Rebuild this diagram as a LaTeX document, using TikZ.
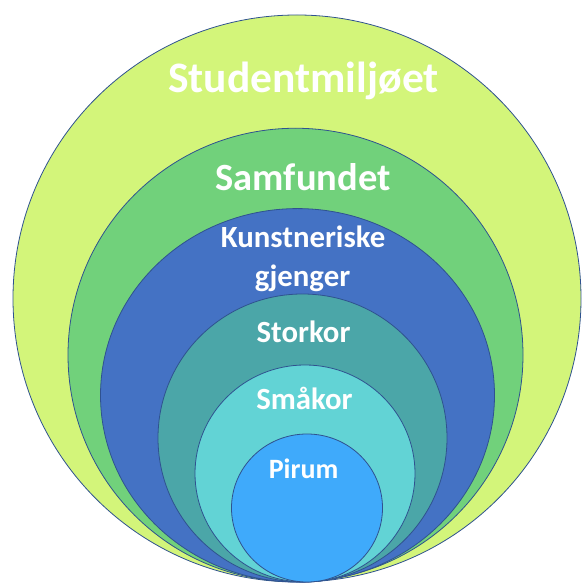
\documentclass[tikz,border=0pt]{standalone}
\usepackage{fontspec}
\setmainfont{Carlito}
\usetikzlibrary{shapes.geometric}
\definecolor{cOuter}{HTML}{D3F57A}
\definecolor{cGreen}{HTML}{71D17B}
\definecolor{cBlue}{HTML}{4472C4}
\definecolor{cTeal}{HTML}{4BA6A8}
\definecolor{cCyan}{HTML}{62D3D5}
\definecolor{cPirum}{HTML}{3FAAFB}
\definecolor{cLine}{HTML}{2F528F}
\tikzset{
  ring/.style={ellipse, draw=cLine, line width=0.8pt, inner sep=0pt, outer sep=0pt},
  lbl/.style={text=white, anchor=base, inner sep=0pt, font=\bfseries},
}
\begin{document}
\begin{tikzpicture}[x=1pt,y=1pt]
\useasboundingbox (0,0) rectangle (584,583);
\node[ring, fill=cOuter, minimum width=568pt, minimum height=567pt] (outer) at (297,284.5) {};
\node[ring, fill=cGreen, minimum width=455pt, minimum height=453.5pt] (samf) at (295.5,228) {};
\node[ring, fill=cBlue, minimum width=394pt, minimum height=373.4pt] (kunst) at (297.5,187.7) {};
\node[ring, fill=cTeal, minimum width=289pt, minimum height=288pt] (stor) at (302.5,145) {};
\node[ring, fill=cCyan, minimum width=220pt, minimum height=217pt] (smaa) at (305,109.5) {};
\node[ring, fill=cPirum, minimum width=151pt, minimum height=148pt] (pirum) at (307,75) {};
\node[lbl, font=\bfseries\fontsize{43.5}{52}\selectfont] (t1) at (303.5,490) {Studentmiljøet};
\node[lbl, font=\bfseries\fontsize{38.5}{46}\selectfont] (t2) at (303,392.3) {Samfundet};
\node[lbl, font=\bfseries\fontsize{30.8}{37}\selectfont] (t3) at (303,335.3) {Kunstneriske};
\node[lbl, font=\bfseries\fontsize{30.8}{37}\selectfont] (t4) at (302.6,296) {gjenger};
\node[lbl, font=\bfseries\fontsize{30.8}{37}\selectfont] (t5) at (303.5,240.4) {Storkor};
\node[lbl, font=\bfseries\fontsize{30.8}{37}\selectfont] (t6) at (304.5,173) {Småkor};
\node[lbl, font=\bfseries\fontsize{28}{33}\selectfont] (t7) at (303.6,104.4) {Pirum};
\end{tikzpicture}
\end{document}
